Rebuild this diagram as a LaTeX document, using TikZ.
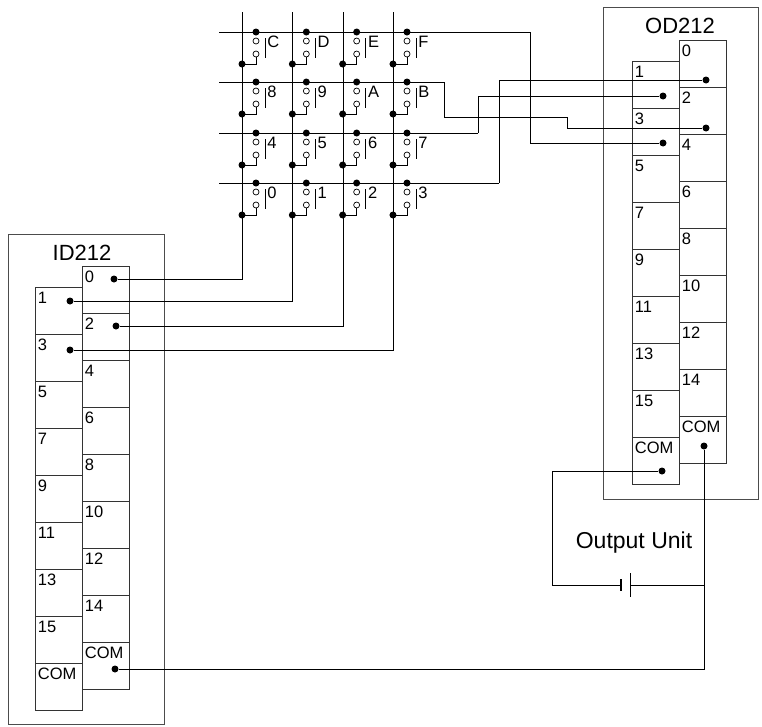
\documentclass[tikz,border=0pt]{standalone}
\usepackage{fontspec}
\setmainfont{Liberation Sans}
\begin{document}
\begin{tikzpicture}[x=1pt,y=-1pt,line width=0.8pt,
  box/.style={draw=black!70,line width=0.8pt},
  cell/.style={draw=black!80,line width=0.8pt},
  lab/.style={anchor=north west,inner sep=0pt,font=\fontsize{16.5}{16.5}\selectfont},
  title/.style={font=\fontsize{22}{22}\selectfont},
  dot/.style={circle,fill=black,inner sep=0pt,minimum size=7pt},
  ring/.style={circle,draw=black,inner sep=0pt,minimum size=6pt,line width=0.7pt},
  wire/.style={draw=black,line width=0.7pt}]
\useasboundingbox (0,0) rectangle (762,726);
% ---------- ID212 ----------
\draw[box] (8,234) rectangle (164,724);
\node[title] (idt) at (82,253) {ID212};
\foreach \l [count=\i from 0] in {0,2,4,6,8,10,12,14,COM}{
  \draw[cell] (82,266+47*\i) rectangle (129,313+47*\i);
  \node[lab] at (84.5,271+47*\i) {\l};}
\foreach \l [count=\i from 0] in {1,3,5,7,9,11,13,15,COM}{
  \draw[cell] (35,287+47*\i) rectangle (82,334+47*\i);
  \node[lab] at (37.5,292+47*\i) {\l};}
\node[dot] (i0) at (114,279) {};
\node[dot] (i1) at (70,301) {};
\node[dot] (i2) at (116,326) {};
\node[dot] (i3) at (70,350) {};
\node[dot] (icom) at (115,669) {};
% ---------- OD212 ----------
\draw[box] (603,7) rectangle (758,499);
\node[title] (odt) at (680,26) {OD212};
\foreach \l [count=\i from 0] in {0,2,4,6,8,10,12,14,COM}{
  \draw[cell] (679,40+47*\i) rectangle (726,87+47*\i);
  \node[lab] at (681.5,45+47*\i) {\l};}
\foreach \l [count=\i from 0] in {1,3,5,7,9,11,13,15,COM}{
  \draw[cell] (632,61+47*\i) rectangle (679,108+47*\i);
  \node[lab] at (634.5,66+47*\i) {\l};}
\node[dot] (o0) at (706,80) {};
\node[dot] (o1) at (663,96) {};
\node[dot] (o2) at (706,128) {};
\node[dot] (o3) at (663,143) {};
\node[dot] (ocl) at (662,471) {};
\node[dot] (ocr) at (704,446) {};
% ---------- keypad ----------
\foreach \c/\x in {0/242,1/292,2/343,3/393}{
  \coordinate (vt\c) at (\x,12);}
\foreach \r/\y/\e in {0/32/530,1/82/444,2/133/478,3/183/499}{
  \coordinate (hl\r) at (219,\y);
  \coordinate (hr\r) at (\e,\y);
  \draw[wire] (hl\r) -- (hr\r);}
\foreach \r/\y/\keys in {0/32/{C,D,E,F},1/82/{8,9,A,B},2/133/{4,5,6,7},3/183/{0,1,2,3}}{
  \foreach \k [count=\c from 0] in \keys {
    \pgfmathsetmacro{\x}{242+50.33*\c}
    \node[dot] (st\r\c) at (\x+14,\y) {};
    \node[ring] (ra\r\c) at (\x+14,\y+9) {};
    \node[ring] (rb\r\c) at (\x+14,\y+22) {};
    \node[dot] (sb\r\c) at (\x,\y+32) {};
    \draw[wire] (rb\r\c.south) |- (sb\r\c.center);
    \draw[wire] (\x+23,\y+6) -- (\x+23,\y+26);
    \node[lab,anchor=west] (kl\r\c) at (\x+25,\y+10) {\k};
  }}
% column wires to ID212
\draw[wire] (vt0) |- (i0);
\draw[wire] (vt1) |- (i1);
\draw[wire] (vt2) |- (i2);
\draw[wire] (vt3) |- (i3);
% row wires to OD212
\draw[wire] (hr0) |- (o3);
\draw[wire] (hr1) -- (444,117) -- (567,117) -- (567,128) -- (o2);
\draw[wire] (hr2) -- (478,96) -- (o1);
\draw[wire] (hr3) -- (499,80) -- (o0);
% ---------- output unit ----------
\node[font=\fontsize{23}{23}\selectfont] (ou) at (634,543) {Output Unit};
\coordinate (bl) at (552,585);
\coordinate (br) at (704,585);
\coordinate (pa) at (621,585);
\coordinate (pb) at (630,585);
\draw[wire] (ocl) -| (bl) -- (pa);
\draw[line width=2pt] (621,579) -- (621,591);
\draw[wire] (630,573) -- (630,597);
\draw[wire] (pb) -- (br);
\draw[wire] (ocr) -- (704,669) -- (icom);
\end{tikzpicture}
\end{document}
